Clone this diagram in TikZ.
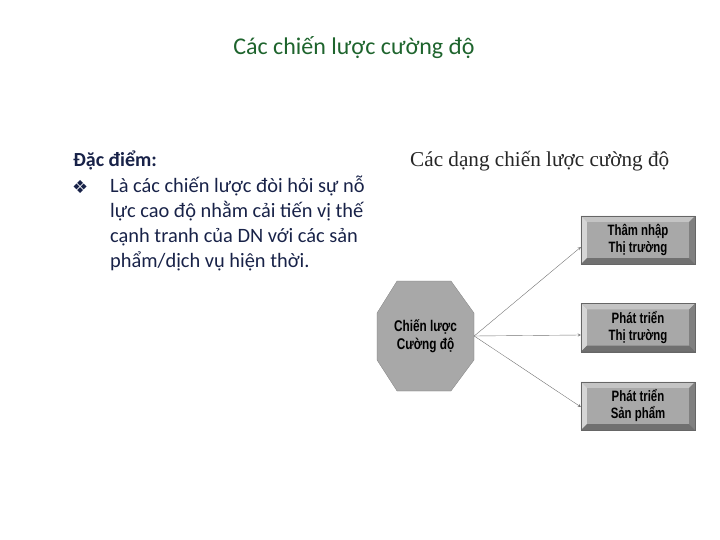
\documentclass[tikz,border=0pt]{standalone}
\usepackage{fontspec}
\setmainfont{Carlito}
\newfontfamily\serifhead{Liberation Serif}
\newfontfamily\boxfont[FakeStretch=0.76]{Liberation Sans}
\newfontfamily\symfont{DejaVu Sans}
\usetikzlibrary{arrows}
\definecolor{titlegreen}{RGB}{30,100,45}
\definecolor{navytext}{RGB}{24,34,72}
\definecolor{face}{RGB}{168,168,168}
\definecolor{bevlight}{RGB}{214,214,214}
\definecolor{bevtop}{RGB}{196,196,196}
\definecolor{bevdark}{RGB}{112,112,112}
\definecolor{bevright}{RGB}{128,128,128}
\tikzstyle{title}=[text=titlegreen, font=\fontsize{24}{28}\selectfont, inner sep=0pt]
\tikzstyle{body}=[text=navytext, font=\fontsize{20.4}{25}\selectfont, inner sep=0pt, anchor=base west]
\tikzstyle{head}=[text=black!85, font=\serifhead\fontsize{21.2}{25}\selectfont, inner sep=0pt, anchor=base west]
\tikzstyle{strat}=[rectangle, fill=face, draw=black!60, very thin, minimum width=114pt, minimum height=48pt, align=center, font=\boxfont\bfseries\fontsize{15}{17}\selectfont]
\tikzstyle{oct}=[rectangle, minimum width=97pt, minimum height=110pt, align=center, font=\boxfont\bfseries\fontsize{15.5}{18}\selectfont]
\tikzstyle{edge}=[->, thin, draw=black!55, >=stealth]
% bevel edges of a box node
\newcommand{\bevel}[1]{
	\fill[bevtop] (#1.north west) -- (#1.north east) -- ([xshift=-6pt,yshift=-6pt]#1.north east) -- ([xshift=6pt,yshift=-6pt]#1.north west) -- cycle;
	\fill[bevlight] (#1.north west) -- ([xshift=6pt,yshift=-6pt]#1.north west) -- ([xshift=6pt,yshift=6pt]#1.south west) -- (#1.south west) -- cycle;
	\fill[bevright] (#1.north east) -- ([xshift=-6pt,yshift=-6pt]#1.north east) -- ([xshift=-6pt,yshift=6pt]#1.south east) -- (#1.south east) -- cycle;
	\fill[bevdark] (#1.south west) -- ([xshift=6pt,yshift=6pt]#1.south west) -- ([xshift=-6pt,yshift=6pt]#1.south east) -- (#1.south east) -- cycle;
	\draw[black!60, very thin] (#1.north west) rectangle (#1.south east);
}
\begin{document}
\begin{tikzpicture}[x=1pt, y=-1pt]
	\useasboundingbox (0,0) rectangle (720,540);

	%The title
	\node[title] (title) at (354,48) {Các chiến lược cường độ};

	%The left text
	\node[body, font=\bfseries\fontsize{20}{25}\selectfont] (dacdiem) at (73,167) {Đặc điểm:};
	\node[body, font=\symfont\fontsize{18}{18}\selectfont] (bullet) at (72,194) {❖};
	\node[body, anchor=north west, align=left] (mota) at (110,176)
		{Là các chiến lược đòi hỏi sự nỗ\\lực cao độ nhằm cải tiến vị thế\\cạnh tranh của DN với các sản\\phẩm/dịch vụ hiện thời.};

	%The right heading
	\node[head] (dang) at (410,167) {Các dạng chiến lược cường độ};

	%The octagon
	\filldraw[fill=face, draw=black!55, very thin] (397,281) -- (451,281) -- (474,313) -- (474,360) -- (451,391) -- (397,391) -- (377,360) -- (377,313) -- cycle;
	\node[oct] (chienluoc) at (425.5,336) {Chiến lược\\Cường độ};

	%The three boxes
	\node[strat] (b1) at (638,240) {Thâm nhập\\Thị trường};
	\bevel{b1}
	\node[strat] (b2) at (638,327.5) {Phát triển\\Thị trường};
	\bevel{b2}
	\node[strat] (b3) at (638,406) {Phát triển\\Sản phẩm};
	\bevel{b3}

	\draw[edge] (chienluoc.east) -- ([yshift=-7pt]b1.west);
	\draw[edge] (chienluoc.east) -- ([yshift=-7.5pt]b2.west);
	\draw[edge] (chienluoc.east) -- ([yshift=-1pt]b3.west);
\end{tikzpicture}
\end{document}
